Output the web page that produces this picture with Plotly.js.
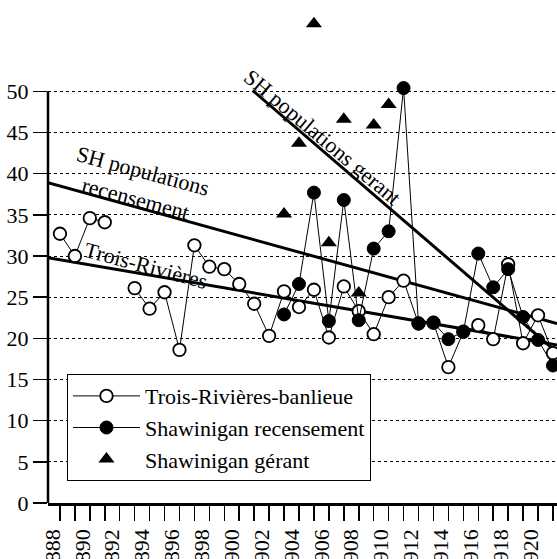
<!DOCTYPE html>
<html>
<head>
<meta charset="utf-8">
<script src="https://cdn.plot.ly/plotly-3.0.1.min.js"></script>
<style>
html,body{margin:0;padding:0;overflow:hidden;background:#fff;}
#chart{width:557px;height:559px;}
</style>
</head>
<body>
<div id="chart"></div>
<script>
// ---- data ----
const years = [1888,1889,1890,1891,1892,1893,1894,1895,1896,1897,1898,1899,1900,1901,1902,1903,1904,1905,1906,1907,1908,1909,1910,1911,1912,1913,1914,1915,1916,1917,1918,1919,1920,1921];
const trBanlieue = [32.7,30.0,34.6,34.1,null,26.1,23.6,25.6,18.6,31.3,28.7,28.4,26.6,24.2,20.3,25.7,23.8,25.9,20.1,26.3,23.3,20.5,25.0,27.0,21.8,21.9,16.5,20.8,21.6,19.9,29.0,19.4,22.8,18.2];
const shawYears = [1903,1904,1905,1906,1907,1908,1909,1910,1911,1912,1913,1914,1915,1916,1917,1918,1919,1920,1921];
const shawRecensement = [22.9,26.6,37.7,22.1,36.8,22.2,30.9,33.0,50.4,21.8,21.9,19.9,20.8,30.3,26.2,28.4,22.6,19.8,16.7];
const gerantYears = [1903,1904,1905,1906,1907,1908,1909,1910];
const shawGerant = [35.1,43.7,58.2,31.6,46.6,25.5,45.9,48.4];
// regression lines (end points)
const trendX = [1887.2, 1921.27];
const trendRecensement = [38.9, 21.8];
const trendTR = [29.8, 19.2];
const trendGerantX = [1900.9, 1921.27];
const trendGerant = [50.1, 18.3];
// tick labels
const tickYears = [1888,1890,1892,1894,1896,1898,1900,1902,1904,1906,1908,1910,1912,1914,1916,1918,1920];
const tickLabels = tickYears.map(String);
const tickPos = tickYears.map(y => y - 0.5);
const yTicks = [0,5,10,15,20,25,30,35,40,45,50];

const FONT = '"Liberation Serif", "Times New Roman", Times, "DejaVu Serif", serif';
const FS = 22;

const traces = [
  {x: trendX, y: trendRecensement, mode:'lines', line:{color:'#000', width:3}, showlegend:false, hoverinfo:'skip'},
  {x: trendX, y: trendTR, mode:'lines', line:{color:'#000', width:3}, showlegend:false, hoverinfo:'skip'},
  {x: trendGerantX, y: trendGerant, mode:'lines', line:{color:'#000', width:3}, showlegend:false, hoverinfo:'skip'},
  {x: years, y: trBanlieue, name:'Trois-Rivières-banlieue', mode:'lines+markers', connectgaps:false,
   line:{color:'#000', width:1},
   marker:{symbol:'circle', size:12.5, color:'#fff', line:{color:'#000', width:1.8}}},
  {x: shawYears, y: shawRecensement, name:'Shawinigan recensement', mode:'lines+markers',
   line:{color:'#000', width:1},
   marker:{symbol:'circle', size:13, color:'#000', line:{color:'#000', width:1}}},
  {x: gerantYears, y: shawGerant, name:'Shawinigan gérant', mode:'markers',
   marker:{symbol:'triangle-up', size:14, color:'#000'}}
];

const layout = {
  width:557, height:559,
  margin:{l:48, r:0, t:8.6, b:56, pad:0},
  paper_bgcolor:'#fff', plot_bgcolor:'#fff',
  font:{family:FONT, size:FS, color:'#000'},
  xaxis:{
    range:[1887.2, 1921.27],
    tickmode:'array', tickvals:tickPos, ticktext:tickLabels,
    tickangle:-90, ticks:'outside', ticklen:15, tickcolor:'rgba(0,0,0,0)',
    tickfont:{family:FONT, size:FS, color:'#000'},
    minor:{tick0:1888, dtick:1, ticks:'outside', ticklen:15, tickwidth:1.5, tickcolor:'#000', showgrid:false},
    showgrid:false, zeroline:false,
    showline:true, linecolor:'#000', linewidth:2.5
  },
  yaxis:{
    range:[0,60], tickmode:'array', tickvals:yTicks, ticktext:yTicks.map(String),
    ticks:'outside', ticklen:14, tickwidth:1.5, tickcolor:'#000',
    tickfont:{family:FONT, size:FS, color:'#000'},
    showgrid:true, gridcolor:'#000', gridwidth:1, griddash:'dot',
    zeroline:false, showline:false
  },
  shapes:[
    {type:'line', xref:'paper', yref:'y', x0:0, x1:0, y0:0, y1:50, line:{color:'#000', width:2.5}, layer:'above'}
  ],
  legend:{
    x:0.0373, y:(503-374)/494.4, xanchor:'left', yanchor:'top',
    bgcolor:'#fff', bordercolor:'#000', borderwidth:1,
    font:{family:FONT, size:FS, color:'#000'},
    itemwidth:67
  },
  annotations:[
    {x:1893.3, y:38.6, xref:'x', yref:'y', text:'SH populations<br>recensement', showarrow:false,
     textangle:15, font:{family:FONT, size:FS, color:'#000'}, align:'center'},
    {x:1893.76, y:28.9, xref:'x', yref:'y', text:'Trois-Rivières', showarrow:false,
     textangle:15, font:{family:FONT, size:FS, color:'#000'}},
    {x:1905.6, y:44.4, xref:'x', yref:'y', text:'SH populations gerant', showarrow:false,
     textangle:40, font:{family:FONT, size:FS, color:'#000'}}
  ]
};

Plotly.newPlot('chart', traces, layout, {staticPlot:true, displayModeBar:false});
</script>
</body>
</html>
